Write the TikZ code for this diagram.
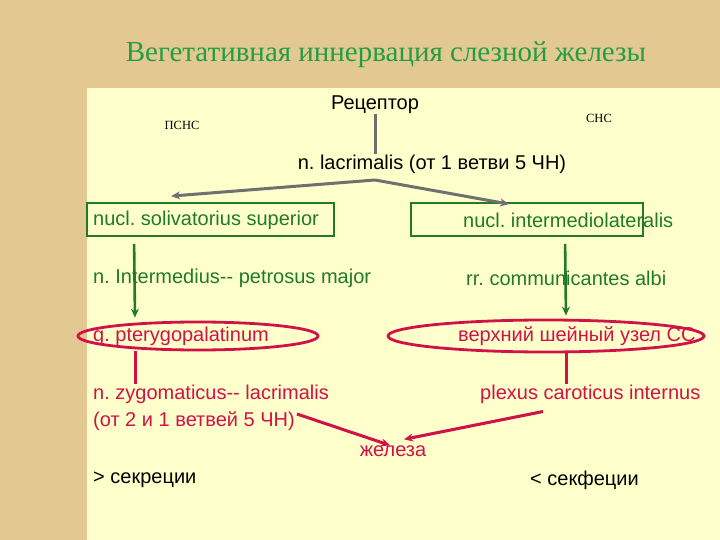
\documentclass[tikz,border=0pt]{standalone}
\usepackage{fontspec}
\setmainfont{Liberation Sans}
\newfontfamily\serifface{Liberation Serif}
\usepackage{tikz}
\usetikzlibrary{arrows, arrows.meta, shapes, shapes.geometric, positioning, calc}
\frenchspacing
\definecolor{parchment}{RGB}{228,200,146}
\definecolor{pale}{RGB}{255,255,204}
\definecolor{titlegreen}{RGB}{34,158,66}
\definecolor{nervegreen}{RGB}{32,122,40}
\definecolor{crimson}{RGB}{208,18,72}
\definecolor{wire}{RGB}{112,112,112}
\tikzstyle{txt} = [inner sep=0pt, anchor=west, font=\fontsize{20}{23}\selectfont]
\tikzstyle{smalltxt} = [inner sep=0pt, font=\serifface\fontsize{12.5}{14}\selectfont]
\tikzstyle{greenbox} = [draw=nervegreen, line width=1.8pt, minimum height=33pt, inner sep=0pt]
\tikzstyle{ganglion} = [ellipse, draw=crimson, line width=2.8pt, inner sep=0pt]
\tikzstyle{grayarrow} = [wire, line width=3pt, -{Stealth[length=9pt, width=8pt]}]
\tikzstyle{greenarrow} = [nervegreen, line width=2.6pt, -{Stealth[length=9pt, width=8pt]}]
\tikzstyle{redarrow} = [crimson, line width=3pt, -{Stealth[length=9pt, width=8pt]}]

\begin{document}
\begin{tikzpicture}[x=1pt, y=-1pt]
\useasboundingbox (0,0) rectangle (720,540);
\fill[parchment] (0,0) rectangle (720,540);
\fill[pale] (87,88) rectangle (720,540);

\node[text=titlegreen, font=\serifface\fontsize{29}{33}\selectfont] (title) at (386,55) {Вегетативная иннервация слезной железы};

\node[txt, anchor=center] (rec) at (375,105) {Рецептор};
\node[smalltxt] (psns) at (182,125) {ПСНС};
\node[smalltxt] (sns) at (599,118) {СНС};
\node[txt, anchor=center] (lacr) at (432,164) {n. lacrimalis (от 1 ветви 5 ЧН)};
\coordinate (fork) at (375,180);

% parasympathetic side
\node[greenbox, minimum width=247pt] (solvbox) at (210.5,219.5) {};
\node[txt, text=nervegreen] (solv) at (93,220) {nucl. solivatorius superior};
\node[txt, text=nervegreen] (interm) at (93,278) {n. Intermedius-{}- petrosus major};
\node[ganglion, minimum width=240pt, minimum height=28pt] (pter) at (198,336) {};
\node[txt, text=crimson] (pterg) at (93,336) {g. pterygopalatinum};
\node[txt, text=crimson] (zyg) at (93,394) {n. zygomaticus-{}- lacrimalis};
\node[txt, text=crimson] (zygb) at (93,421) {(от 2 и 1 ветвей 5 ЧН)};

% sympathetic side
\node[greenbox, minimum width=232pt] (intbox) at (527,219.5) {};
\node[txt, text=nervegreen] (intlat) at (463,220) {nucl. intermediolateralis};
\node[txt, text=nervegreen] (albi) at (466,278) {rr. communicantes albi};
\node[ganglion, minimum width=316pt, minimum height=32pt] (symp) at (546,336) {};
\node[txt, text=crimson] (cerv) at (458,336) {верхний шейный узел СС};
\node[txt, text=crimson] (plexus) at (480,394) {plexus caroticus internus};

\node[txt, anchor=center, text=crimson] (gland) at (393,451) {железа};
\node[txt] (moresec) at (93,480) {> секреции};
\node[txt] (lesssec) at (530,480) {< секфеции};

\draw[wire, line width=3pt] (rec.south) -- (rec.south |- lacr.north);
\draw[grayarrow] (fork) -- ([xshift=85pt, yshift=6pt]solvbox.north west);
\draw[grayarrow] (fork) -- ([xshift=99pt, yshift=-2pt]intbox.north west);

\draw[greenarrow] ([xshift=48pt, yshift=-7pt]solvbox.south west) -- ([shift={(-63pt,3pt)}]pter.north);
\draw[greenarrow] ([xshift=155pt, yshift=-7pt]intbox.south west) -- ([shift={(20pt,3pt)}]symp.north);

\draw[crimson, line width=3pt] ([xshift=-63pt]pter.south) -- ([xshift=42pt]zyg.north west);
\draw[crimson, line width=3pt] ([xshift=20pt]symp.south) -- ([xshift=86pt]plexus.north west);

\draw[redarrow] ([shift={(2pt,7pt)}]zygb.east) -- ([xshift=-3pt]gland.north);
\draw[redarrow] ([shift={(63pt,-8pt)}]plexus.south west) -- ([shift={(11pt,6pt)}]gland.north);
\end{tikzpicture}
\end{document}
